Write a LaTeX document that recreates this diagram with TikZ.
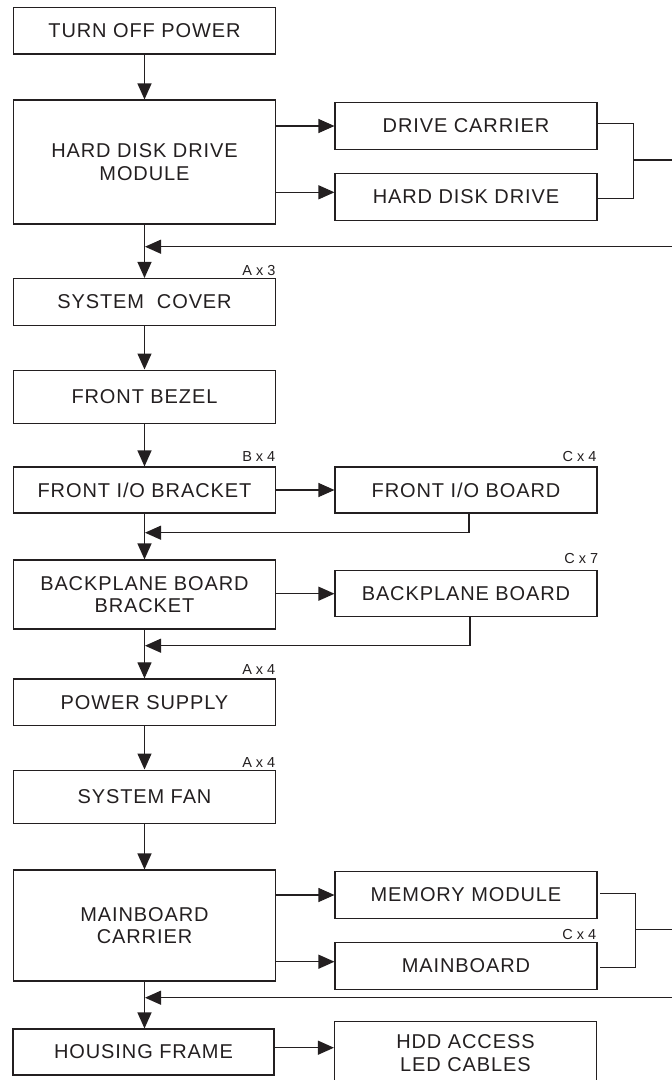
\documentclass[tikz,border=0pt]{standalone}
\usepackage{fontspec}
\setmainfont{Liberation Sans}
\newfontfamily\boxfont{Liberation Sans}[LetterSpace=4.5]
\usetikzlibrary{arrows.meta}
\definecolor{ink}{HTML}{231F20}
\begin{document}
\begin{tikzpicture}[x=1pt,y=-1pt,
  box/.style={draw=ink, line width=1.1pt, minimum width=262pt, inner sep=0pt, align=center, text=ink,
    font=\boxfont\fontsize{20}{22.7}\selectfont},
  arr/.style={draw=ink, line width=1.1pt, -{Triangle[length=16pt,width=14pt]}},
  ln/.style={draw=ink, line width=1.1pt},
  lbl/.style={text=ink, font=\fontsize{14.5}{16}\selectfont, inner sep=0pt, anchor=base east}]
\useasboundingbox (0,0) rectangle (672,1080);
\clip (0,0) rectangle (672,1080);

% boxes
\node[box, minimum height=46.5pt] (turnoff) at (144.5,30.75) {TURN OFF POWER};
\node[box, minimum height=124pt] (hddmod) at (144.5,162) {HARD DISK DRIVE\\MODULE};
\node[box, minimum height=46.6pt] (carrier) at (466,126) {DRIVE CARRIER};
\node[box, minimum height=46.7pt] (hdd) at (466,196.7) {HARD DISK DRIVE};
\node[box, minimum height=46.8pt] (syscover) at (144.5,301.9) {SYSTEM\ \ COVER};
\node[box, minimum height=53.3pt] (bezel) at (144.5,396.7) {FRONT BEZEL};
\node[box, minimum height=46pt] (fiobr) at (144.5,490) {FRONT I/O BRACKET};
\node[box, minimum height=46pt] (fioboard) at (466,490) {FRONT I/O BOARD};
\node[box, minimum height=69pt] (bpbr) at (144.5,594.5) {BACKPLANE BOARD\\BRACKET};
\node[box, minimum height=46pt] (bpboard) at (466,593.7) {BACKPLANE BOARD};
\node[box, minimum height=46.7pt] (power) at (144.5,702.3) {POWER SUPPLY};
\node[box, minimum height=53.3pt] (fan) at (144.5,796.7) {SYSTEM FAN};
\node[box, minimum height=111pt] (mbcarrier) at (144.5,925.5) {MAINBOARD\\CARRIER};
\node[box, minimum height=46.6pt] (memory) at (466,895) {MEMORY MODULE};
\node[box, minimum height=46.7pt] (mainboard) at (466,965.7) {MAINBOARD};
\node[box, minimum height=46pt, minimum width=261pt] (housing) at (143.5,1052) {HOUSING FRAME};
\node[box, minimum height=63pt] (hddaccess) at (465.5,1053.3) {HDD ACCESS\\LED CABLES};

% labels
\node[lbl] (l1) at (275.7,275) {A x 3};
\node[lbl] (l2) at (275.5,461) {B x 4};
\node[lbl] (l3) at (596.7,461) {C x 4};
\node[lbl] (l4) at (598.5,563.3) {C x 7};
\node[lbl] (l5) at (275.5,674.5) {A x 4};
\node[lbl] (l6) at (275.5,767.7) {A x 4};
\node[lbl] (l7) at (596.5,939) {C x 4};

% main vertical flow
\draw[arr] (turnoff) -- (hddmod);
\draw[arr] (hddmod) -- (syscover);
\draw[arr] (syscover) -- (bezel);
\draw[arr] (bezel) -- (fiobr);
\draw[arr] (fiobr) -- (bpbr);
\draw[arr] (bpbr) -- (power);
\draw[arr] (power) -- (fan);
\draw[arr] (fan) -- (mbcarrier);
\draw[arr] (mbcarrier.south) -- (mbcarrier.south |- housing.north);

% hard disk drive module branch
\draw[arr] (hddmod.east |- carrier.west) -- (carrier.west);
\path ([yshift=4.4pt]hdd.west) coordinate (hddin);
\draw[arr] (hddin -| hddmod.east) -- (hddin);
\coordinate (k1) at (633.3,160);
\coordinate (e1) at (680,160);
\draw[ln] ([yshift=2.7pt]carrier.east) -| (k1);
\draw[ln] ([yshift=-1.6pt]hdd.east) -| (k1);
\draw[ln] (k1) -- (e1);
\coordinate (r1) at (680,246.7);
\draw[arr] (r1) -- ([xshift=0.5pt]r1 -| hddmod.center);

% front I/O
\draw[arr] (fiobr) -- (fioboard);
\coordinate (r2) at (469,532.7);
\draw[arr] (r2 |- fioboard.south) -- (r2) -- ([xshift=0.5pt]r2 -| fiobr.center);

% backplane
\draw[arr] (bpbr.east |- bpboard.west) -- (bpboard.west);
\coordinate (r3) at (470,645.7);
\draw[arr] (r3 |- bpboard.south) -- (r3) -- ([xshift=0.5pt]r3 -| bpbr.center);

% mainboard carrier branch
\draw[arr] (mbcarrier.east |- memory.west) -- (memory.west);
\path ([yshift=4pt]mainboard.west) coordinate (mbin);
\draw[arr] (mbin -| mbcarrier.east) -- (mbin);
\coordinate (k2) at (635.7,929.3);
\coordinate (e2) at (680,929.3);
\draw[ln] ([xshift=2.5pt,yshift=1.7pt]memory.east) -| (k2);
\draw[ln] ([xshift=2.5pt,yshift=-2pt]mainboard.east) -| (k2);
\draw[ln] (k2) -- (e2);
\coordinate (r4) at (680,997.7);
\draw[arr] (r4) -- ([xshift=0.5pt]r4 -| mbcarrier.center);

% housing frame
\path ([yshift=4.3pt]housing.east) coordinate (hsout);
\draw[arr] (hsout) -- (hsout -| hddaccess.west);
\end{tikzpicture}
\end{document}
